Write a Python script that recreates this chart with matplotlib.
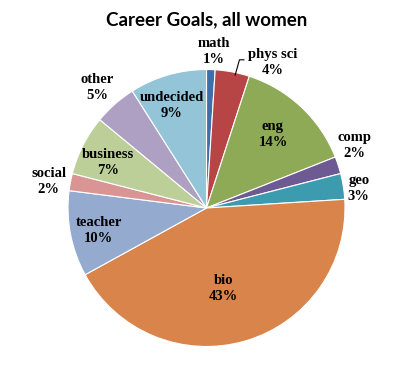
import matplotlib
matplotlib.use('Agg')
import matplotlib.pyplot as plt

goals = ['math', 'phys sci', 'eng', 'comp', 'geo', 'bio',
         'teacher', 'social', 'business', 'other', 'undecided']
percents = [1, 4, 14, 2, 3, 43, 10, 2, 7, 5, 9]

colors = ['#3F6FA8', '#B84545', '#8EAA57', '#6E5A92', '#3D9BB0', '#D9844A',
          '#94AACF', '#D99594', '#BCCF98', '#ADA0C2', '#93C4D7']

# label centres, in pie radius units (layout only)
label_xy = [(0.05, 1.13), (0.48, 1.05), (0.48, 0.53), (1.07, 0.45), (1.10, 0.14),
            (0.12, -0.58), (-0.78, -0.16), (-1.14, 0.19), (-0.71, 0.33),
            (-0.79, 0.87), (-0.25, 0.74)]

fig = plt.figure(figsize=(4.13, 3.81), dpi=100)
ax = fig.add_axes([(206.5 - 138.5) / 413, (381 - 208 - 138.5) / 381,
                   277 / 413, 277 / 381])

ax.pie(percents, colors=colors, startangle=90, counterclock=False,
       wedgeprops={'edgecolor': 'white', 'linewidth': 0.8})
ax.set_xlim(-1, 1)
ax.set_ylim(-1, 1)
ax.set_aspect('equal')
ax.axis('off')

for name, p, (x, y) in zip(goals, percents, label_xy):
    ax.text(x, y, f"{name}\n{p}%", ha='center', va='center',
            family='Liberation Serif', fontweight='bold', fontsize=10.5,
            linespacing=1.3, clip_on=False)

# leader line for phys sci
ax.plot([0.207, 0.238, 0.27], [0.96, 1.07, 1.07], color='black', lw=0.8,
        clip_on=False)

fig.text(207 / 413, 1 - 20 / 381, 'Career Goals, all women', ha='center',
         va='center', family='Lato', fontweight='bold', fontsize=13.5)

fig.savefig('out.png', dpi=100)
